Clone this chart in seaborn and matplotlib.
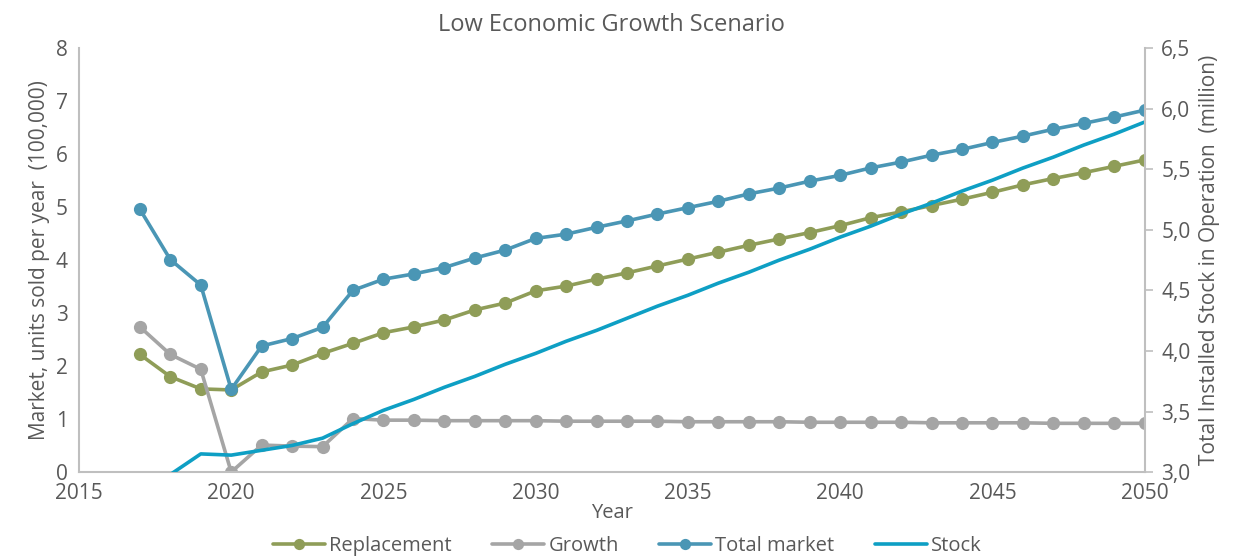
import matplotlib
matplotlib.use("Agg")
import matplotlib.pyplot as plt
import matplotlib.ticker as mticker
import seaborn as sns
import pandas as pd

# years on the x axis
years = list(range(2017, 2051))

# market, units sold per year (100,000)
replacement = [2.22, 1.80, 1.57, 1.55, 1.89, 2.02, 2.24, 2.43, 2.63, 2.74, 2.87, 3.06,
               3.19, 3.42, 3.51, 3.64, 3.76, 3.89, 4.02, 4.15, 4.28, 4.40, 4.52, 4.65,
               4.80, 4.91, 5.03, 5.15, 5.28, 5.42, 5.54, 5.65, 5.77, 5.89]
growth = [2.74, 2.22, 1.94, 0.00, 0.51, 0.49, 0.48, 1.01, 0.98, 0.98, 0.97, 0.97,
          0.97, 0.97, 0.96, 0.96, 0.96, 0.96, 0.95, 0.95, 0.95, 0.95, 0.94, 0.94,
          0.94, 0.94, 0.93, 0.93, 0.93, 0.93, 0.92, 0.92, 0.92, 0.92]
total_market = [4.96, 4.01, 3.53, 1.56, 2.38, 2.52, 2.73, 3.43, 3.64, 3.74, 3.86, 4.04,
                4.19, 4.41, 4.49, 4.62, 4.74, 4.87, 4.99, 5.11, 5.25, 5.36, 5.49, 5.60,
                5.74, 5.85, 5.98, 6.09, 6.22, 6.34, 6.47, 6.58, 6.70, 6.83]

# total installed stock in operation (million), right axis
stock = [2.60, 2.98, 3.15, 3.14, 3.18, 3.22, 3.28, 3.40, 3.51, 3.60, 3.70, 3.79,
         3.89, 3.98, 4.08, 4.17, 4.27, 4.37, 4.46, 4.56, 4.65, 4.75, 4.84, 4.94,
         5.03, 5.13, 5.22, 5.32, 5.41, 5.51, 5.60, 5.70, 5.79, 5.89]

x_ticks = [2015, 2020, 2025, 2030, 2035, 2040, 2045, 2050]
left_ticks = [0, 1, 2, 3, 4, 5, 6, 7, 8]
right_ticks = [3.0, 3.5, 4.0, 4.5, 5.0, 5.5, 6.0, 6.5]

df = pd.DataFrame({"year": years, "Replacement": replacement, "Growth": growth,
                   "Total market": total_market, "Stock": stock})

sns.set_style("white")
plt.rcParams["font.family"] = ["Open Sans", "DejaVu Sans"]

txt = "#595959"
spine = "#BFBFBF"
colors = {"Replacement": "#8F9D58", "Growth": "#A5A5A5", "Total market": "#4A96B5"}

fig = plt.figure(figsize=(12.42, 5.6), dpi=100)
ax = fig.add_axes([0.0636, 0.157, 0.858, 0.757])
ax2 = ax.twinx()

for name in ["Replacement", "Growth", "Total market"]:
    sns.lineplot(data=df, x="year", y=name, ax=ax, color=colors[name], label=name,
                 marker="o", markersize=9.5, markeredgewidth=0, linewidth=2.6)

sns.lineplot(data=df, x="year", y="Stock", ax=ax2, color="#0E9FC4", label="Stock",
             linewidth=2.6)

ax.set_xlim(2015, 2050)
ax.set_ylim(0, 8)
ax2.set_ylim(3.0, 6.5)
ax.set_xticks(x_ticks)
ax.set_yticks(left_ticks)
ax2.set_yticks(right_ticks)
ax2.yaxis.set_major_formatter(mticker.FuncFormatter(lambda v, p: f"{v:.1f}".replace(".", ",")))

ax.set_title("Low Economic Growth Scenario", fontsize=17, color=txt, pad=12)
ax.set_xlabel("Year", fontsize=14.5, color=txt, labelpad=-1)
ax.set_ylabel("Market, units sold per year  (100,000)", fontsize=15, color=txt, labelpad=4)
ax2.set_ylabel("Total Installed Stock in Operation  (million)", fontsize=15, color=txt, labelpad=6)

for a in (ax, ax2):
    for s in a.spines.values():
        s.set_visible(False)
ax.spines["left"].set_visible(True)
ax.spines["bottom"].set_visible(True)
ax2.spines["right"].set_visible(True)
for s in (ax.spines["left"], ax.spines["bottom"], ax2.spines["right"]):
    s.set_color(spine)
    s.set_linewidth(1.5)

ax.tick_params(axis="both", length=0, labelsize=15, labelcolor=txt, pad=8)
ax2.tick_params(axis="y", length=6, width=1.2, color=spine, direction="out",
                labelsize=15, labelcolor=txt, pad=6)

# combined legend under the chart
h1, l1 = ax.get_legend_handles_labels()
h2, l2 = ax2.get_legend_handles_labels()
ax.get_legend().remove()
ax2.get_legend().remove()
fig.legend(h1 + h2, l1 + l2, loc="lower center", ncol=4, frameon=False,
           fontsize=14.5, labelcolor=txt, bbox_to_anchor=(0.505, -0.025),
           handlelength=2.6, handletextpad=0.2, columnspacing=2.0, markerscale=0.85)

fig.savefig("out.png", dpi=100)
